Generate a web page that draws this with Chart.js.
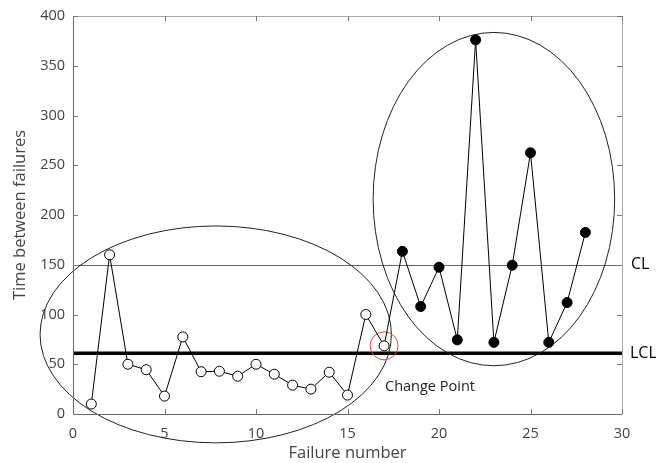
<!DOCTYPE html>
<html>
<head>
<meta charset="utf-8">
<script src="https://cdn.jsdelivr.net/npm/chart.js@4"></script>
<style>
  html, body { margin: 0; padding: 0; background: #fff; }
  #wrap { width: 656px; height: 463px; }
</style>
</head>
<body>
<div id="wrap"><canvas id="chart"></canvas></div>
<script>
// ---- data ----
const failureNumbers = [1, 2, 3, 4, 5, 6, 7, 8, 9, 10, 11, 12, 13, 14, 15, 16, 17, 18, 19, 20, 21, 22, 23, 24, 25, 26, 27, 28];
const timeBetween = [10, 160, 50, 44.5, 18, 77.5, 42.5, 43, 38, 50, 40, 29, 25, 42, 19, 100, 68.5, 163.5, 108, 147.5, 74.5, 376, 72, 149.5, 262.5, 72, 112, 182.5];
const changeIndex = 17;          // points after this are filled
const clValue = 150;
const lclValue = 61;
const xTicks = [0, 5, 10, 15, 20, 25, 30];
const yTicks = [0, 50, 100, 150, 200, 250, 300, 350, 400];
// ellipses: [cx, cy, rx, ry] in data units
const ellipseBefore = [7.8, 80, 9.6, 109];
const ellipseAfter = [23.0, 216, 6.6, 167.5];

const points = failureNumbers.map((x, i) => ({ x: x, y: timeBetween[i] }));

const font = "'Open Sans', 'Noto Sans', sans-serif";

// draws box, inward ticks, CL/LCL lines, ellipses and text
const decorations = {
    id: 'decorations',
    beforeDatasetsDraw(chart) {
        const { ctx, chartArea: a, scales: { x, y } } = chart;
        ctx.save();

        // CL line
        ctx.strokeStyle = '#666';
        ctx.lineWidth = 1;
        ctx.beginPath();
        ctx.moveTo(a.left, Math.round(y.getPixelForValue(clValue)) + 0.5);
        ctx.lineTo(a.right, Math.round(y.getPixelForValue(clValue)) + 0.5);
        ctx.stroke();

        // LCL line
        ctx.strokeStyle = '#000';
        ctx.lineWidth = 3.5;
        ctx.beginPath();
        ctx.moveTo(a.left, y.getPixelForValue(lclValue));
        ctx.lineTo(a.right, y.getPixelForValue(lclValue));
        ctx.stroke();

        // ellipses
        ctx.strokeStyle = '#222';
        ctx.lineWidth = 1;
        [ellipseBefore, ellipseAfter].forEach(e => {
            const cx = x.getPixelForValue(e[0]);
            const cy = y.getPixelForValue(e[1]);
            const rx = x.getPixelForValue(e[0] + e[2]) - cx;
            const ry = cy - y.getPixelForValue(e[1] + e[3]);
            ctx.beginPath();
            ctx.ellipse(cx, cy, rx, ry, 0, 0, Math.PI * 2);
            ctx.stroke();
        });

        // box
        ctx.lineWidth = 1;
        ctx.strokeStyle = '#aaa';
        ctx.beginPath();
        ctx.moveTo(a.left, a.top + 0.5);
        ctx.lineTo(a.right + 0.5, a.top + 0.5);
        ctx.lineTo(a.right + 0.5, a.bottom);
        ctx.stroke();
        ctx.strokeStyle = '#666';
        ctx.beginPath();
        ctx.moveTo(a.left + 0.5, a.top);
        ctx.lineTo(a.left + 0.5, a.bottom + 0.5);
        ctx.lineTo(a.right + 0.5, a.bottom + 0.5);
        ctx.stroke();

        // inward ticks
        const tl = 5;
        ctx.strokeStyle = '#777';
        ctx.beginPath();
        xTicks.forEach(v => {
            const px = Math.round(x.getPixelForValue(v)) + 0.5;
            ctx.moveTo(px, a.bottom); ctx.lineTo(px, a.bottom - tl);
            ctx.moveTo(px, a.top); ctx.lineTo(px, a.top + tl);
        });
        yTicks.forEach(v => {
            const py = Math.round(y.getPixelForValue(v)) + 0.5;
            ctx.moveTo(a.left, py); ctx.lineTo(a.left + tl, py);
            ctx.moveTo(a.right, py); ctx.lineTo(a.right - tl, py);
        });
        ctx.stroke();

        // CL / LCL labels
        ctx.fillStyle = '#000';
        ctx.font = '16px ' + font;
        ctx.textAlign = 'left';
        ctx.textBaseline = 'middle';
        ctx.fillText('CL', a.right + 9, y.getPixelForValue(clValue));
        ctx.fillText('LCL', a.right + 8, y.getPixelForValue(lclValue));

        // change point marker
        const p = points[changeIndex - 1];
        ctx.strokeStyle = '#e8463c';
        ctx.lineWidth = 1;
        ctx.beginPath();
        ctx.arc(x.getPixelForValue(p.x), y.getPixelForValue(p.y), 14, 0, Math.PI * 2);
        ctx.stroke();

        ctx.fillStyle = '#222';
        ctx.font = '14.5px ' + font;
        ctx.fillText('Change Point', x.getPixelForValue(17.05), y.getPixelForValue(27));

        ctx.restore();
    }
};

new Chart(document.getElementById('chart'), {
    type: 'scatter',
    data: {
        datasets: [{
            data: points,
            showLine: true,
            borderColor: '#000',
            borderWidth: 1,
            pointRadius: 5,
            pointBorderWidth: 1,
            pointBorderColor: '#000',
            pointBackgroundColor: points.map((p, i) => i < changeIndex ? '#fff' : '#000')
        }]
    },
    options: {
        responsive: true,
        maintainAspectRatio: false,
        animation: false,
        layout: { padding: { top: 16, right: 34, left: 0, bottom: 0 } },
        plugins: {
            legend: { display: false },
            tooltip: { enabled: false }
        },
        scales: {
            x: {
                type: 'linear',
                min: 0,
                max: 30,
                afterFit: s => { s.height = 49; },
                afterBuildTicks: s => { s.ticks = xTicks.map(v => ({ value: v })); },
                grid: { display: false },
                border: { display: false },
                ticks: { color: '#444', padding: 3, font: { family: font, size: 14.5 } },
                title: {
                    display: true,
                    text: 'Failure number',
                    color: '#444',
                    padding: { top: 0, bottom: 0 },
                    font: { family: font, size: 16.5 }
                }
            },
            y: {
                type: 'linear',
                min: 0,
                max: 400,
                afterFit: s => { s.width = 73; },
                afterBuildTicks: s => { s.ticks = yTicks.map(v => ({ value: v })); },
                grid: { display: false },
                border: { display: false },
                ticks: { color: '#444', padding: 0, font: { family: font, size: 14.5 } },
                title: {
                    display: true,
                    text: 'Time between failures',
                    color: '#444',
                    padding: { top: 10, bottom: 0 },
                    font: { family: font, size: 16.5 }
                }
            }
        }
    },
    plugins: [decorations]
});
</script>
</body>
</html>
